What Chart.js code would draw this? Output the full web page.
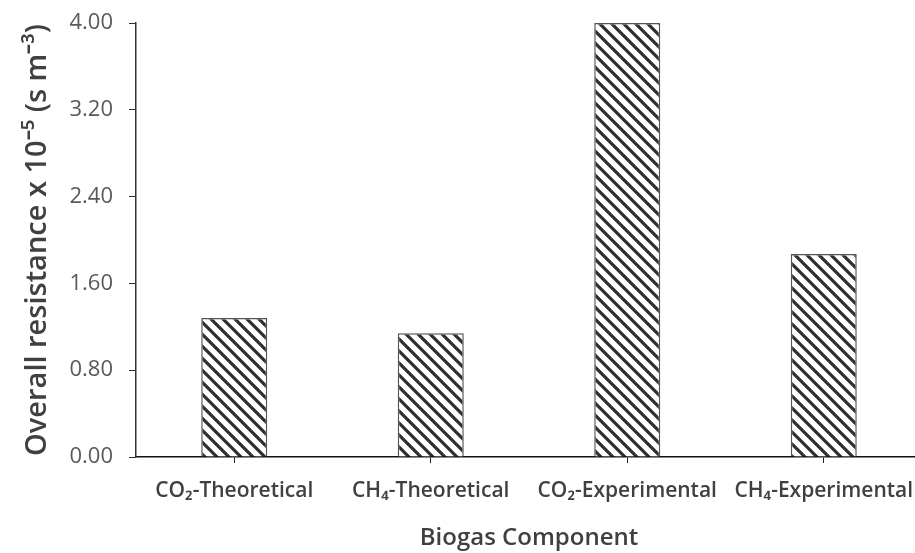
<!DOCTYPE html>
<html>
<head>
<meta charset="utf-8">
<script src="https://cdn.jsdelivr.net/npm/chart.js@4/dist/chart.umd.min.js"></script>
<style>
  html, body { margin: 0; padding: 0; background: #fff; overflow: hidden; }
  #wrap { width: 925px; height: 553px; }
</style>
</head>
<body>
<div id="wrap"><canvas id="grafico"></canvas></div>
<script>
const categorias = ['CO\u2082-Theoretical', 'CH\u2084-Theoretical', 'CO\u2082-Experimental', 'CH\u2084-Experimental'];
const resistencia = [1.28, 1.14, 4.00, 1.87];
const ticks_y = [0, 0.8, 1.6, 2.4, 3.2, 4.0];

// padrao de hachura diagonal
function hachura(){
    const c = document.createElement('canvas');
    const s = 12;
    c.width = s; c.height = s;
    const g = c.getContext('2d');
    g.fillStyle = '#fff';
    g.fillRect(0, 0, s, s);
    g.strokeStyle = '#303030';
    g.lineWidth = 3.2;
    g.beginPath();
    g.moveTo(-s, 0); g.lineTo(s, 2 * s);
    g.moveTo(0, -s); g.lineTo(2 * s, s);
    g.moveTo(-s, -s); g.lineTo(2 * s, 2 * s);
    g.stroke();
    return g.createPattern(c, 'repeat');
}

const ctx = document.getElementById('grafico').getContext('2d');
const myChart = new Chart(ctx, {
    type: 'bar',
    data: {
        labels: categorias,
        datasets: [{
            data: resistencia,
            backgroundColor: hachura(),
            borderColor: '#555',
            borderWidth: 1.5,
            barPercentage: 0.336,
            categoryPercentage: 1
        }]
    },
    options: {
        responsive: true,
        maintainAspectRatio: false,
        animation: false,
        layout: { padding: { top: 23, right: 3, left: 0, bottom: 0 } },
        plugins: {
            legend: { display: false },
            tooltip: { enabled: false }
        },
        scales: {
            x: {
                grid: {
                    offset: false,
                    drawOnChartArea: false,
                    tickLength: 6,
                    color: '#222'
                },
                border: { color: '#111', width: 1.5 },
                ticks: {
                    color: '#404040',
                    padding: 15,
                    maxRotation: 0,
                    autoSkip: false,
                    font: { family: 'Open Sans', size: 21, weight: '600' }
                },
                title: {
                    display: true,
                    text: 'Biogas Component',
                    color: '#404040',
                    padding: { top: 8, bottom: 0 },
                    font: { family: 'Open Sans', size: 24, weight: '600' }
                },
                afterFit: function(scale){
                    scale.height = 96;
                    scale.paddingLeft = 0;
                    scale.paddingRight = 0;
                }
            },
            y: {
                min: 0,
                max: 4,
                afterBuildTicks: function(scale){
                    scale.ticks = ticks_y.map(function(v){ return { value: v }; });
                },
                grid: {
                    drawOnChartArea: false,
                    tickLength: 7,
                    color: '#333'
                },
                border: { color: '#333', width: 1.5 },
                ticks: {
                    color: '#595959',
                    padding: 16,
                    font: { family: 'Open Sans', size: 22 },
                    callback: function(v){ return Number(v).toFixed(2); }
                },
                title: {
                    display: true,
                    text: 'Overall resistance x 10\u207B\u2075 (s m\u207B\u00B3)',
                    color: '#404040',
                    padding: { top: 20, bottom: 0 },
                    font: { family: 'Open Sans', size: 29, weight: '600' }
                },
                afterFit: function(scale){
                    scale.width = 136;
                    scale.paddingTop = 0;
                    scale.paddingBottom = 0;
                }
            }
        }
    }
});
</script>
</body>
</html>
